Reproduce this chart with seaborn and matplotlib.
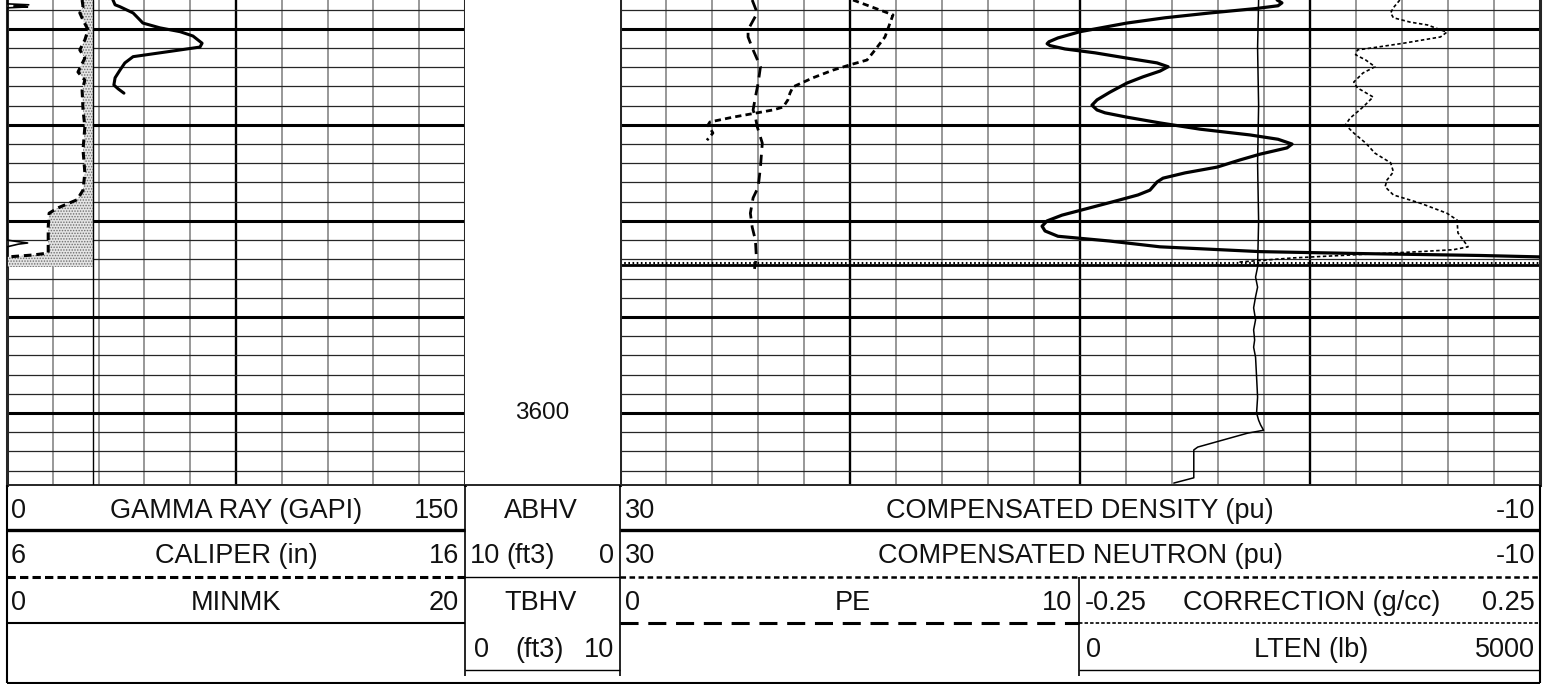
import matplotlib
matplotlib.use("Agg")
import matplotlib.pyplot as plt
import matplotlib.transforms as mtransforms
import numpy as np
import pandas as pd
import seaborn as sns

W, H = 1548, 684

# depth window (ft) and bit size (in)
DEPTH_TOP = 3557.0
DEPTH_BOT = 3607.5
DEPTH_LABEL = 3600
BIT_SIZE = 7.875

# track 1 curves
GR_DEPTH = [3557.0, 3557.5, 3557.7, 3558.35, 3559.1, 3559.4, 3559.9, 3560.3, 3560.75, 3561.5,
            3561.9, 3562.2, 3562.5, 3562.9, 3563.55, 3564.3, 3565.1, 3565.85, 3566.25, 3566.7]
GR_GAPI = [34.7, 35.4, 37.0, 41.3, 43.6, 44.5, 50.1, 56.7, 60.9, 63.9,
           63.2, 56.7, 50.1, 41.3, 38.6, 37.0, 35.4, 35.0, 36.4, 38.3]

CAL_DEPTH = [3557.0, 3557.7, 3558.35, 3559.1, 3560.1, 3561.15, 3562.2, 3563.05, 3564.5, 3565.35,
             3566.4, 3568.45, 3570.2, 3572.6, 3575.0, 3576.8, 3577.8, 3578.65, 3579.2, 3580.65,
             3583.35, 3583.55, 3583.75, 3583.85, 3584.8]
CAL_IN = [7.64, 7.66, 7.59, 7.66, 7.77, 7.70, 7.59, 7.70, 7.55, 7.70,
          7.64, 7.66, 7.70, 7.66, 7.70, 7.66, 7.53, 7.11, 6.92, 6.90,
          6.90, 6.57, 6.02, 5.5, 5.5]

MK_DEPTH = [3557.0, 3557.4, 3557.5, 3557.62, 3557.72, 3557.82, 3582.0, 3582.3, 3582.42, 3582.7, 3584.8]
MK_VAL = [0.0, 0.0, 0.95, 0.3, 0.9, 0.0, 0.0, 0.9, 0.5, 0.0, 0.0]

# track 2/3 curves
DEN_DEPTH = [3557.0, 3557.3, 3557.6, 3557.9, 3558.35, 3558.85, 3559.4, 3560.3, 3560.95, 3561.35,
             3561.55, 3561.75, 3562.1, 3562.5, 3563.05, 3563.55, 3563.95, 3564.4, 3565.0, 3565.65,
             3566.6, 3567.4, 3567.95, 3568.45, 3568.75, 3569.2, 3569.8, 3570.45, 3571.05, 3571.5,
             3572.0, 3572.4, 3573.05, 3573.65, 3574.4, 3575.0, 3575.55, 3575.95, 3576.8, 3577.3,
             3577.95, 3578.55, 3579.4, 3580.0, 3580.55, 3581.05, 3581.6, 3582.1, 3582.7, 3583.2,
             3583.4, 3583.6, 3583.75, 3583.85]
DEN_PU = [1.43, 1.22, 1.39, 2.39, 4.35, 6.30, 7.96, 10.0, 10.96, 11.35,
          11.43, 11.30, 10.65, 9.35, 7.96, 6.65, 6.17, 6.52, 7.26, 7.96,
          8.70, 9.26, 9.48, 9.26, 8.91, 7.96, 6.52, 4.78, 2.61, 1.39,
          0.78, 1.00, 2.17, 3.04, 4.04, 5.43, 6.39, 6.65, 6.96, 7.48,
          8.48, 9.43, 10.78, 11.43, 11.65, 11.52, 10.96, 8.70, 6.52, 2.17,
          -2.17, -7.39, -10.0, -16.0]

NEU_DEPTH = [3557.0, 3558.55, 3559.4, 3560.85, 3562.2, 3563.25, 3563.75, 3564.3, 3565.1, 3566.05,
             3566.7, 3567.4, 3568.15, 3568.45, 3568.75, 3569.2, 3569.7, 3570.0, 3570.85, 3571.6]
NEU_PU = [19.87, 18.13, 18.26, 18.48, 18.91, 19.26, 20.0, 20.74, 21.61, 22.48,
          22.61, 22.70, 22.91, 23.35, 24.04, 25.09, 26.09, 26.17, 25.96, 26.22]

PE_DEPTH = [3557.0, 3558.35, 3560.1, 3560.85, 3562.2, 3563.95, 3565.65, 3567.1, 3568.45, 3569.2,
            3570.2, 3571.9, 3574.4, 3576.5, 3577.6, 3579.2, 3580.65, 3582.0, 3583.75, 3585.0]
PE_VAL = [2.88, 2.99, 2.79, 2.79, 2.90, 3.06, 3.01, 2.95, 2.90, 2.95,
          2.99, 3.10, 3.06, 3.01, 2.90, 2.84, 2.88, 2.95, 2.97, 2.93]

CORR_DEPTH = [3557.0, 3557.8, 3558.35, 3558.85, 3559.3, 3559.6, 3560.35, 3560.85, 3561.5, 3561.9,
              3562.2, 3562.7, 3563.25, 3563.95, 3564.6, 3565.55, 3566.15, 3567.1, 3568.15, 3569.3,
              3570.0, 3570.85, 3571.9, 3572.95, 3573.95, 3574.9, 3575.75, 3576.45, 3577.3, 3578.15,
              3579.2, 3579.9, 3581.25, 3582.7, 3583.0, 3583.2, 3583.5, 3583.85, 3584.3]
CORR_GCC = [0.098, 0.091, 0.088, 0.091, 0.109, 0.128, 0.149, 0.142, 0.102, 0.074,
            0.052, 0.050, 0.061, 0.071, 0.058, 0.048, 0.052, 0.069, 0.058, 0.044,
            0.039, 0.048, 0.061, 0.071, 0.088, 0.091, 0.084, 0.082, 0.091, 0.120,
            0.149, 0.160, 0.161, 0.172, 0.156, 0.120, 0.055, -0.017, -0.078]

LTEN_DEPTH = [3557.0, 3562.0, 3568.0, 3574.0, 3580.0, 3584.8, 3585.85, 3586.9, 3587.9, 3589.05,
              3590.3, 3591.35, 3592.4, 3593.15, 3594.2, 3596.25, 3598.35, 3600.0, 3600.75, 3601.25,
              3601.8, 3602.1, 3603.55, 3603.85, 3606.75, 3607.3]
LTEN_LB = [1948, 1937, 1948, 1937, 1948, 1937, 1915, 1937, 1915, 1894,
           1915, 1894, 1905, 1894, 1915, 1926, 1937, 1926, 1948, 1970,
           2002, 1829, 1288, 1245, 1245, 1028]

# layout in pixels
X_T1 = (7, 465)
X_DEP = (465, 620)
X_T23 = (620, 1540)
X_SPLIT = 1079
Y_TRACK = (0, 485)
Y_ROWS = [485, 530, 577, 623, 670, 683]
BASELINES = [518, 563, 610, 657]

sns.set_style("white")
plt.rcParams["font.family"] = ["Liberation Sans", "DejaVu Sans"]
plt.rcParams["lines.scale_dashes"] = False
plt.rcParams["hatch.linewidth"] = 0.7

fig = plt.figure(figsize=(W / 100, H / 100), dpi=100)
fig.patch.set_facecolor("white")


def px_axes(x0, x1, y0, y1):
    return fig.add_axes([x0 / W, (H - y1) / H, (x1 - x0) / W, (y1 - y0) / H])


def grid_axes(x0, x1, n_div, majors):
    ax = px_axes(x0, x1, *Y_TRACK)
    ax.set_xlim(0, n_div)
    ax.set_ylim(DEPTH_BOT, DEPTH_TOP)
    for i in range(1, n_div):
        if i in majors:
            ax.axvline(i, color="black", lw=1.7, zorder=1)
        else:
            ax.axvline(i, color="#7c7c7c", lw=1.1, zorder=1)
    for d in np.arange(3558, DEPTH_BOT, 2):
        if d % 10 == 0:
            ax.axhline(d, color="black", lw=2.2, zorder=1)
        else:
            ax.axhline(d, color="#262626", lw=0.9, zorder=1)
    ax.set_xticks([])
    ax.set_yticks([])
    ax.spines["top"].set_visible(False)
    ax.spines["left"].set_linewidth(2.2)
    ax.spines["right"].set_linewidth(2.2)
    ax.spines["bottom"].set_linewidth(1.4)
    return ax


def curve_axes(x0, x1, xlim):
    ax = px_axes(x0, x1, *Y_TRACK)
    ax.set_xlim(*xlim)
    ax.set_ylim(DEPTH_BOT, DEPTH_TOP)
    ax.axis("off")
    return ax


def draw_curve(ax, depth, values, xlim, **kws):
    df = pd.DataFrame({"depth": depth, "value": values})
    sns.lineplot(data=df, x="value", y="depth", sort=False, estimator=None,
                 color="black", ax=ax, **kws)
    ax.set_xlim(*xlim)
    ax.set_ylim(DEPTH_BOT, DEPTH_TOP)
    ax.axis("off")


# track grids
ax_t1 = grid_axes(*X_T1, 10, [5])
ax_t23 = grid_axes(*X_T23, 20, [5, 10, 15])
ax_t23.axhline(3584.62, color="black", lw=2.0, zorder=2)
ax_t23.axhline(3584.35, color="black", lw=1.5, ls=(0, (1.2, 1.8)), zorder=2)

ax_d = px_axes(*X_DEP, *Y_TRACK)
ax_d.set_ylim(DEPTH_BOT, DEPTH_TOP)
ax_d.set_xticks([])
ax_d.set_yticks([])
for s in ["top", "left", "right"]:
    ax_d.spines[s].set_visible(False)
ax_d.spines["bottom"].set_linewidth(1.4)
trans = mtransforms.blended_transform_factory(ax_d.transAxes, ax_d.transData)
ax_d.text(0.5, DEPTH_LABEL, str(DEPTH_LABEL), transform=trans, ha="center", va="center",
          fontsize=17.5, color="#111111")

# track 1: caliper with bit-size shading, gamma ray, minmk
ax_cal = curve_axes(*X_T1, (6, 16))
cal = np.array(CAL_IN)
ax_cal.fill_betweenx(CAL_DEPTH, cal, BIT_SIZE, where=cal < BIT_SIZE, interpolate=True,
                     facecolor="#e4e4e4", edgecolor="#6e6e6e", hatch="......", linewidth=0)
ax_cal.axvline(BIT_SIZE, color="black", lw=1.0)
draw_curve(ax_cal, CAL_DEPTH, CAL_IN, (6, 16), lw=2.2, linestyle=(0, (5.5, 3.5)))

ax_gr = curve_axes(*X_T1, (0, 150))
draw_curve(ax_gr, GR_DEPTH, GR_GAPI, (0, 150), lw=2.2)

ax_mk = curve_axes(*X_T1, (0, 20))
draw_curve(ax_mk, MK_DEPTH, MK_VAL, (0, 20), lw=1.2)

# track 2/3
ax_pe = curve_axes(X_T23[0], X_SPLIT, (0, 10))
draw_curve(ax_pe, PE_DEPTH, PE_VAL, (0, 10), lw=2.0, linestyle=(0, (8, 5)))

ax_neu = curve_axes(*X_T23, (30, -10))
draw_curve(ax_neu, NEU_DEPTH, NEU_PU, (30, -10), lw=2.0, linestyle=(0, (4.5, 3)))

ax_den = curve_axes(*X_T23, (30, -10))
draw_curve(ax_den, DEN_DEPTH, DEN_PU, (30, -10), lw=2.3)

ax_corr = curve_axes(X_SPLIT, X_T23[1], (-0.25, 0.25))
draw_curve(ax_corr, CORR_DEPTH, CORR_GCC, (-0.25, 0.25), lw=1.2, linestyle=(0, (2.5, 1.8)))

ax_lt = curve_axes(X_SPLIT, X_T23[1], (0, 5000))
draw_curve(ax_lt, LTEN_DEPTH, LTEN_LB, (0, 5000), lw=1.1)

# header block
ax_h = fig.add_axes([0, 0, 1, 1])
ax_h.set_xlim(0, W)
ax_h.set_ylim(H, 0)
ax_h.axis("off")


def hline(y, x0, x1, **kw):
    ax_h.plot([x0, x1], [y, y], color="black", solid_capstyle="butt", **kw)


def vline(x, y0, y1, **kw):
    ax_h.plot([x, x], [y0, y1], color="black", solid_capstyle="butt", **kw)


r = Y_ROWS
hline(r[1], X_T1[0], X_T1[1], lw=2.4)
hline(r[1], X_T23[0], X_T23[1], lw=2.4)
hline(r[2], X_T1[0], X_T1[1], lw=2.2, ls=(0, (6, 3)))
hline(r[2], X_DEP[0], X_DEP[1], lw=1.0)
hline(r[2], X_T23[0], X_T23[1], lw=1.8, ls=(0, (4, 2.5)))
hline(r[3], X_T1[0], X_T1[1], lw=1.5)
hline(r[3], X_T23[0], X_SPLIT, lw=2.2, ls=(0, (13, 7)))
hline(r[3], X_SPLIT, X_T23[1], lw=1.2, ls=(0, (2.5, 1.5)))
hline(r[4], X_DEP[0], X_DEP[1], lw=1.0)
hline(r[4], X_SPLIT, X_T23[1], lw=1.0)
hline(r[5], X_T1[0], X_T23[1], lw=1.5)
vline(X_T1[0], r[0], r[5], lw=1.5)
vline(X_T23[1], r[0], r[5], lw=1.5)
vline(X_DEP[0], r[0], 676, lw=1.2)
vline(X_DEP[1], r[0], 676, lw=1.2)
vline(X_SPLIT, r[2], 676, lw=1.2)

FS = 19.5
b = BASELINES
header_text = [
    (11, b[0], "0", "left"), (236, b[0], "GAMMA RAY (GAPI)", "center"), (459, b[0], "150", "right"),
    (11, b[1], "6", "left"), (236, b[1], "CALIPER (in)", "center"), (459, b[1], "16", "right"),
    (11, b[2], "0", "left"), (236, b[2], "MINMK", "center"), (459, b[2], "20", "right"),
    (541, b[0], "ABHV", "center"),
    (470, b[1], "10", "left"), (531, b[1], "(ft3)", "center"), (614, b[1], "0", "right"),
    (541, b[2], "TBHV", "center"),
    (474, b[3], "0", "left"), (540, b[3], "(ft3)", "center"), (614, b[3], "10", "right"),
    (625, b[0], "30", "left"), (1080, b[0], "COMPENSATED DENSITY (pu)", "center"),
    (1535, b[0], "-10", "right"),
    (625, b[1], "30", "left"), (1080, b[1], "COMPENSATED NEUTRON (pu)", "center"),
    (1535, b[1], "-10", "right"),
    (625, b[2], "0", "left"), (853, b[2], "PE", "center"), (1072, b[2], "10", "right"),
    (1085, b[2], "-0.25", "left"), (1312, b[2], "CORRECTION (g/cc)", "center"),
    (1535, b[2], "0.25", "right"),
    (1086, b[3], "0", "left"), (1311, b[3], "LTEN (lb)", "center"), (1535, b[3], "5000", "right"),
]
for x, y, s, ha in header_text:
    ax_h.text(x, y, s, ha=ha, va="baseline", fontsize=FS, color="#111111")

fig.savefig("out.png", dpi=100, facecolor="white")
